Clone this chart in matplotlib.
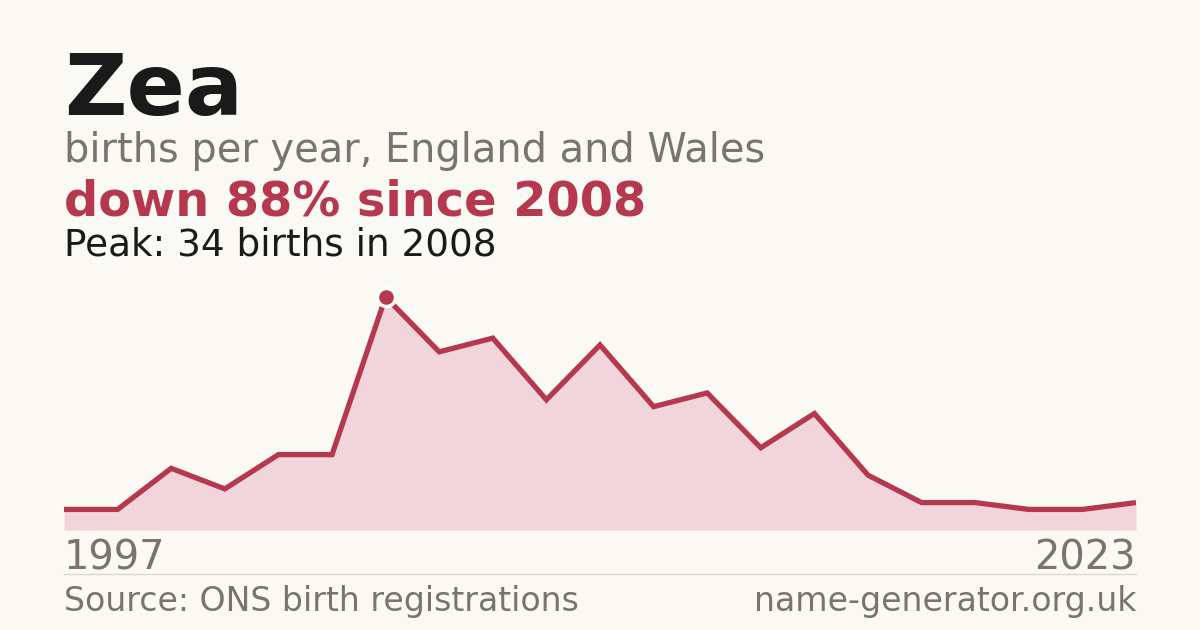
import matplotlib
matplotlib.use("Agg")
import matplotlib.pyplot as plt

# years with published counts (gaps are suppressed years)
years = [1997, 2001, 2003, 2004, 2005, 2007, 2008, 2009, 2010, 2011, 2012,
         2013, 2014, 2015, 2016, 2017, 2018, 2019, 2020, 2022, 2023]
births = [3, 3, 9, 6, 11, 11, 34, 26, 28, 19, 27,
          18, 20, 12, 17, 8, 4, 4, 3, 3, 4]

name = "Zea"
subtitle = "births per year, England and Wales"
headline = "down 88% since 2008"
peak_note = "Peak: 34 births in 2008"
source = "Source: ONS birth registrations"
site = "name-generator.org.uk"

bg = "#faf9f4"
red = "#b5384f"
fill = "#f1d5db"
grey = "#7a756c"

W, H = 1200, 630
fig = plt.figure(figsize=(12, 6.3), dpi=100, facecolor=bg)


def fy(px):
    return 1 - px / H


# titles
fig.text(64 / W, fy(115), name, fontsize=62, fontweight="bold", color="#1a1a1a", va="baseline")
fig.text(64 / W, fy(162), subtitle, fontsize=28.7, color=grey, va="baseline")
fig.text(64 / W, fy(215), headline, fontsize=34.5, fontweight="bold", color=red, va="baseline")
fig.text(64 / W, fy(256), peak_note, fontsize=26.9, color="#1a1a1a", va="baseline")

# chart area
ax = fig.add_axes([64 / W, 100 / H, 1072 / W, 233 / H])
ax.set_facecolor(bg)
ax.patch.set_alpha(0)
x = list(range(len(births)))
ax.fill_between(x, births, 0, color=fill, lw=0)
ax.plot(x, births, color=red, lw=3.8, solid_joinstyle="miter", solid_capstyle="butt")
peak_i = births.index(max(births))
ax.plot(peak_i, births[peak_i], "o", ms=13, color=red, mec="white", mew=2.5, clip_on=False, zorder=5)
ax.set_xlim(0, len(births) - 1)
ax.set_ylim(0, max(births))
ax.axis("off")

# year labels
fig.text(64 / W, fy(570), str(years[0]), fontsize=28.7, color=grey, va="baseline")
fig.text(1136 / W, fy(570), str(years[-1]), fontsize=28.7, color=grey, va="baseline", ha="right")

# separator and footer
fig.add_artist(plt.Line2D([64 / W, 1136 / W], [fy(574), fy(574)], color="#ddd8cf", lw=1))
fig.text(64 / W, fy(611), source, fontsize=23.9, color=grey, va="baseline")
fig.text(1136 / W, fy(611), site, fontsize=23.9, color=grey, va="baseline", ha="right")

fig.savefig("out.png", dpi=100, facecolor=bg)
